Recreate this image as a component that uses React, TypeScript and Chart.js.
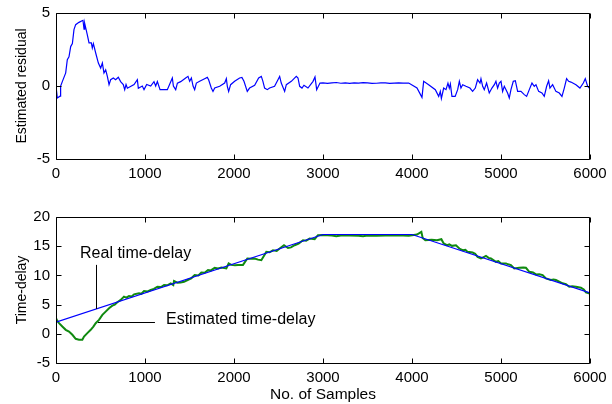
import React, { useEffect, useRef } from "react";
import { Chart, registerables } from "chart.js";
Chart.register(...registerables);

// ---------- data ----------
const xTickValues = [0, 1000, 2000, 3000, 4000, 5000, 6000];
const residualTickValues = [-5, 0, 5];
const delayTickValues = [-5, 0, 5, 10, 15, 20];

const residualX = [
  0, 15, 45, 52, 71, 109, 127, 146, 165, 184, 202, 221, 258, 303, 315, 322, 352, 371, 397, 408, 420, 446, 476, 502, 521, 539, 558, 577, 596, 614, 644, 670, 700, 726, 756, 772, 787, 802, 877, 914, 925, 970, 989, 1019, 1064, 1101, 1120, 1139, 1169, 1251, 1307, 1319, 1345, 1364, 1401, 1457, 1483, 1502, 1521, 1540, 1558, 1577, 1614, 1670, 1700, 1715, 1745, 1764, 1783, 1839, 1895, 1914, 1925, 1940, 1962, 2007, 2063, 2089, 2112, 2149, 2175, 2232, 2277, 2307, 2325, 2344, 2374, 2400, 2456, 2494, 2513, 2531, 2569, 2588, 2644, 2700, 2719, 2738, 2764, 2786, 2831, 2888, 2910, 2929, 2966, 3000, 3050, 3100, 3150, 3200, 3250, 3300, 3350, 3400, 3450, 3500, 3550, 3600, 3650, 3700, 3750, 3800, 3850, 3900, 3963, 4056, 4112, 4131, 4187, 4262, 4300, 4318, 4330, 4356, 4382, 4404, 4419, 4431, 4449, 4468, 4485, 4513, 4532, 4550, 4569, 4606, 4651, 4681, 4711, 4737, 4764, 4775, 4794, 4812, 4838, 4868, 4898, 4925, 4943, 4962, 4981, 5000, 5018, 5037, 5074, 5093, 5112, 5138, 5161, 5187, 5224, 5262, 5288, 5318, 5348, 5374, 5393, 5423, 5460, 5486, 5513, 5535, 5550, 5580, 5617, 5655, 5685, 5711, 5737, 5760, 5786, 5842, 5887, 5925, 5947, 5973, 5992, 6000,
];
const residualY = [
  0, -0.82, -0.7, 0, 0.3, 0.9, 1.8, 2.0, 2.7, 2.9, 3.86, 4.2, 4.36, 4.5, 3.9, 4.3, 3.5, 2.95, 2.95, 2.6, 2.9, 2.26, 1.57, 1.23, 1.57, 0.89, 1.1, 0.66, 0.09, 0.43, 0.55, 0.43, 0.6, 0.3, 0.1, -0.25, 0.1, -0.15, 0.1, 0.43, -0.15, 0, -0.25, 0.1, 0, 0.3, 0, 0.3, -0.25, -0.25, 0.55, 0, -0.25, 0.2, 0.3, 0.55, 0.66, 0.32, 0.55, 0.0, -0.25, 0.2, 0.32, 0.5, 0.59, 0.43, -0.14, -0.37, -0.14, -0.02, 0.2, 0.5, -0.02, -0.37, 0.09, 0.32, 0.55, 0.59, 0.32, -0.37, -0.14, 0.05, 0.55, 0.66, 0.32, -0.14, -0.25, -0.14, -0.02, 0.43, 0.66, 0.2, -0.37, 0.09, 0.32, 0.66, 0.55, -0.02, -0.14, 0.05, -0.14, 0.32, 0.62, -0.25, 0.2, 0.22, 0.18, 0.21, 0.24, 0.19, 0.22, 0.18, 0.21, 0.2, 0.23, 0.22, 0.18, 0.19, 0.22, 0.21, 0.18, 0.2, 0.22, 0.2, 0.2, -0.14, -0.78, 0.32, 0.09, -0.25, -0.71, -0.37, -0.85, -0.14, -0.25, 0.2, -0.14, 0.14, -0.71, -0.71, -0.71, -0.25, 0.32, -0.14, 0.09, -0.02, -0.14, -0.37, -0.14, 0.43, 0.2, 0.5, -0.02, -0.25, 0.2, -0.48, -0.14, 0.09, 0.32, -0.14, 0.2, 0.32, -0.37, -0.02, -0.48, -0.82, -0.25, 0.32, 0.36, -0.37, -0.37, -0.59, -0.71, -0.25, 0.2, -0.02, 0.09, -0.37, -0.48, -0.71, -0.02, 0.36, -0.14, 0.09, -0.37, -0.48, -0.71, -0.14, 0.5, 0.32, 0.27, 0.09, -0.14, 0.2, 0.5, -0.02, -0.14, 0.0,
];

const realX = [0, 3000, 4000, 6000];
const realY = [2, 17, 17, 7];

const estX = [
  0, 15, 34, 71, 109, 146, 184, 221, 258, 296, 315, 352, 390, 420, 446, 483, 521, 558, 596, 633, 660, 689, 727, 764, 790, 820, 850, 877, 933, 960, 989, 1030, 1064, 1100, 1139, 1180, 1214, 1250, 1289, 1318, 1326, 1364, 1400, 1439, 1490, 1520, 1558, 1600, 1633, 1670, 1708, 1740, 1783, 1820, 1858, 1914, 1940, 1970, 2010, 2045, 2101, 2150, 2190, 2232, 2270, 2307, 2363, 2400, 2438, 2480, 2513, 2562, 2607, 2640, 2681, 2726, 2775, 2810, 2850, 2906, 2943, 3000, 3100, 3150, 3200, 3300, 3400, 3450, 3500, 3600, 3700, 3800, 3900, 3963, 4056, 4105, 4120, 4150, 4220, 4281, 4330, 4356, 4393, 4420, 4449, 4494, 4532, 4569, 4600, 4625, 4681, 4710, 4737, 4775, 4800, 4831, 4860, 4887, 4943, 4970, 5000, 5056, 5080, 5112, 5149, 5205, 5250, 5280, 5318, 5360, 5393, 5430, 5468, 5505, 5561, 5590, 5617, 5692, 5730, 5767, 5800, 5842, 5898, 5930, 5954, 5992, 6000,
];
const estY = [
  2.67, 2.21, 1.82, 1.24, 0.68, 0.39, -0.17, -0.86, -1.0, -1.0, -0.46, 0.11, 0.68, 1.24, 1.82, 2.38, 3.24, 3.8, 4.38, 4.82, 5.0, 5.4, 5.8, 6.36, 6.2, 6.47, 6.4, 6.76, 6.93, 6.85, 7.33, 7.25, 7.5, 7.7, 8.06, 8.0, 8.35, 8.3, 8.64, 8.35, 9.04, 8.75, 8.8, 8.9, 9.3, 9.5, 10.06, 10.0, 10.5, 10.45, 10.9, 10.85, 11.3, 11.2, 11.35, 11.2, 12.05, 11.8, 11.75, 11.8, 11.8, 12.9, 12.85, 12.9, 12.7, 12.6, 14.03, 13.95, 14.3, 14.2, 14.6, 15.17, 14.7, 14.8, 15.17, 15.46, 16.03, 15.95, 16.3, 16.2, 16.88, 16.9, 16.85, 16.7, 16.85, 16.85, 16.8, 16.7, 16.85, 16.8, 16.85, 16.85, 16.85, 16.8, 17.0, 17.45, 16.4, 16.03, 16.1, 16.03, 16.2, 15.46, 15.17, 15.3, 15.06, 15.17, 14.6, 14.32, 14.4, 14.03, 13.92, 13.7, 13.18, 12.9, 13.1, 13.35, 13.0, 12.9, 12.33, 12.45, 12.05, 12.05, 11.9, 11.76, 11.2, 11.3, 11.35, 11.3, 10.62, 10.5, 10.17, 10.2, 10.06, 9.49, 9.21, 9.3, 9.21, 8.64, 8.5, 8.07, 8.15, 8.07, 7.9, 7.6, 7.1, 6.93, 7.0,
];

// annotations (data coordinates)
const realLabel = { text: "Real time-delay", x: 270, y: 13.8 };
const realPointer = { x: 449, y0: 11.8, y1: 4.25 };
const estLabel = { text: "Estimated time-delay", x: 1236, y: 2.5 };
const estPointer = { x0: 472, x1: 1112, y: 2.1 };

const FONT = "'Liberation Sans', Arial, Helvetica, sans-serif";

const toPts = (xs: number[], ys: number[]) => xs.map((x, i) => ({ x, y: ys[i] }));

const framePlugin = {
  id: "frame",
  afterDatasetsDraw(chart: any) {
    const { ctx, chartArea: a, scales } = chart;
    const L = Math.round(a.left) + 0.5;
    const R = Math.round(a.right) - 0.5;
    const T = Math.round(a.top) + 0.5;
    const B = Math.round(a.bottom) + 0.5;
    ctx.save();
    ctx.strokeStyle = "#000";
    ctx.lineWidth = 1;
    ctx.beginPath();
    ctx.rect(L, T, R - L, B - T);
    const tl = 5;
    scales.x.ticks.forEach((t: any) => {
      const px = Math.round(scales.x.getPixelForValue(t.value)) + 0.5;
      ctx.moveTo(px, B);
      ctx.lineTo(px, B - tl);
      ctx.moveTo(px, T);
      ctx.lineTo(px, T + tl);
    });
    scales.y.ticks.forEach((t: any) => {
      const py = Math.round(scales.y.getPixelForValue(t.value)) + 0.5;
      ctx.moveTo(L, py);
      ctx.lineTo(L + tl, py);
      ctx.moveTo(R, py);
      ctx.lineTo(R - tl, py);
    });
    ctx.stroke();
    ctx.restore();
  },
};

const annotationPlugin = {
  id: "annot",
  afterDraw(chart: any) {
    const { ctx, scales } = chart;
    const X = (v: number) => scales.x.getPixelForValue(v);
    const Y = (v: number) => scales.y.getPixelForValue(v);
    ctx.save();
    ctx.fillStyle = "#000";
    ctx.strokeStyle = "#000";
    ctx.lineWidth = 1;
    ctx.font = `16px ${FONT}`;
    ctx.textBaseline = "middle";
    ctx.textAlign = "left";
    ctx.fillText(realLabel.text, X(realLabel.x), Y(realLabel.y));
    ctx.fillText(estLabel.text, X(estLabel.x), Y(estLabel.y));
    ctx.beginPath();
    const px = Math.round(X(realPointer.x)) + 0.5;
    ctx.moveTo(px, Y(realPointer.y0));
    ctx.lineTo(px, Y(realPointer.y1));
    const py = Math.round(Y(estPointer.y)) + 0.5;
    ctx.moveTo(X(estPointer.x0), py);
    ctx.lineTo(X(estPointer.x1), py);
    ctx.stroke();
    ctx.restore();
  },
};

function zeroPad(s: any) {
  s.paddingLeft = 0;
  s.paddingRight = 0;
  s.paddingTop = 0;
  s.paddingBottom = 0;
}

function makeOptions(opts: {
  yMin: number;
  yMax: number;
  yTicks: number[];
  yTitle: string;
  xTitle?: string;
  xHeight: number;
  top: number;
}) {
  return {
    responsive: false,
    animation: false as const,
    devicePixelRatio: 1,
    layout: { padding: { left: 0, right: 22, top: opts.top, bottom: 0 } },
    plugins: { legend: { display: false }, tooltip: { enabled: false } },
    elements: { point: { radius: 0 } },
    scales: {
      x: {
        type: "linear" as const,
        min: 0,
        max: 6000,
        afterBuildTicks: (s: any) => {
          s.ticks = xTickValues.map((v) => ({ value: v }));
        },
        ticks: {
          autoSkip: false,
          maxRotation: 0,
          padding: 6,
          color: "#000",
          font: { family: FONT, size: 15 },
          callback: (v: any) => String(v),
        },
        grid: { display: false, drawTicks: false },
        border: { display: false },
        title: opts.xTitle
          ? {
              display: true,
              text: opts.xTitle,
              color: "#000",
              font: { family: FONT, size: 15.5 },
              padding: { top: 0, bottom: 0 },
            }
          : { display: false },
        afterFit: (s: any) => {
          s.height = opts.xHeight;
          zeroPad(s);
        },
      },
      y: {
        type: "linear" as const,
        min: opts.yMin,
        max: opts.yMax,
        afterBuildTicks: (s: any) => {
          s.ticks = opts.yTicks.map((v) => ({ value: v }));
        },
        ticks: {
          padding: 6,
          color: "#000",
          font: { family: FONT, size: 15 },
          callback: (v: any) => String(v),
        },
        grid: { display: false, drawTicks: false },
        border: { display: false },
        title: {
          display: true,
          text: opts.yTitle,
          color: "#000",
          font: { family: FONT, size: 14 },
          padding: { top: 14, bottom: 0 },
        },
        afterFit: (s: any) => {
          s.width = 56;
          zeroPad(s);
        },
      },
    },
  };
}

export default function App() {
  const topRef = useRef<HTMLCanvasElement>(null);
  const botRef = useRef<HTMLCanvasElement>(null);

  useEffect(() => {
    const c1 = new Chart(topRef.current!, {
      type: "line",
      data: {
        datasets: [
          {
            data: toPts(residualX, residualY),
            borderColor: "#0000ff",
            borderWidth: 1.2,
            pointRadius: 0,
            tension: 0,
          },
        ],
      },
      options: makeOptions({
        yMin: -5,
        yMax: 5,
        yTicks: residualTickValues,
        yTitle: "Estimated residual",
        xHeight: 41,
        top: 13,
      }) as any,
      plugins: [framePlugin],
    });
    const c2 = new Chart(botRef.current!, {
      type: "line",
      data: {
        datasets: [
          {
            data: toPts(realX, realY),
            borderColor: "#0000ff",
            borderWidth: 1.2,
            pointRadius: 0,
            tension: 0,
          },
          {
            data: toPts(estX, estY),
            borderColor: "#108a10",
            borderWidth: 2,
            pointRadius: 0,
            tension: 0,
          },
        ],
      },
      options: makeOptions({
        yMin: -5,
        yMax: 20,
        yTicks: delayTickValues,
        yTitle: "Time-delay",
        xTitle: "No. of Samples",
        xHeight: 41,
        top: 17,
      }) as any,
      plugins: [framePlugin, annotationPlugin],
    });
    return () => {
      c1.destroy();
      c2.destroy();
    };
  }, []);

  return (
    <div
      style={{
        position: "absolute",
        left: 0,
        top: 0,
        width: 612,
        height: 404,
        background: "#fff",
        overflow: "hidden",
      }}
    >
      <canvas
        ref={topRef}
        width={612}
        height={200}
        style={{ position: "absolute", left: 0, top: 0, width: 612, height: 200 }}
      />
      <canvas
        ref={botRef}
        width={612}
        height={204}
        style={{ position: "absolute", left: 0, top: 200, width: 612, height: 204 }}
      />
    </div>
  );
}
